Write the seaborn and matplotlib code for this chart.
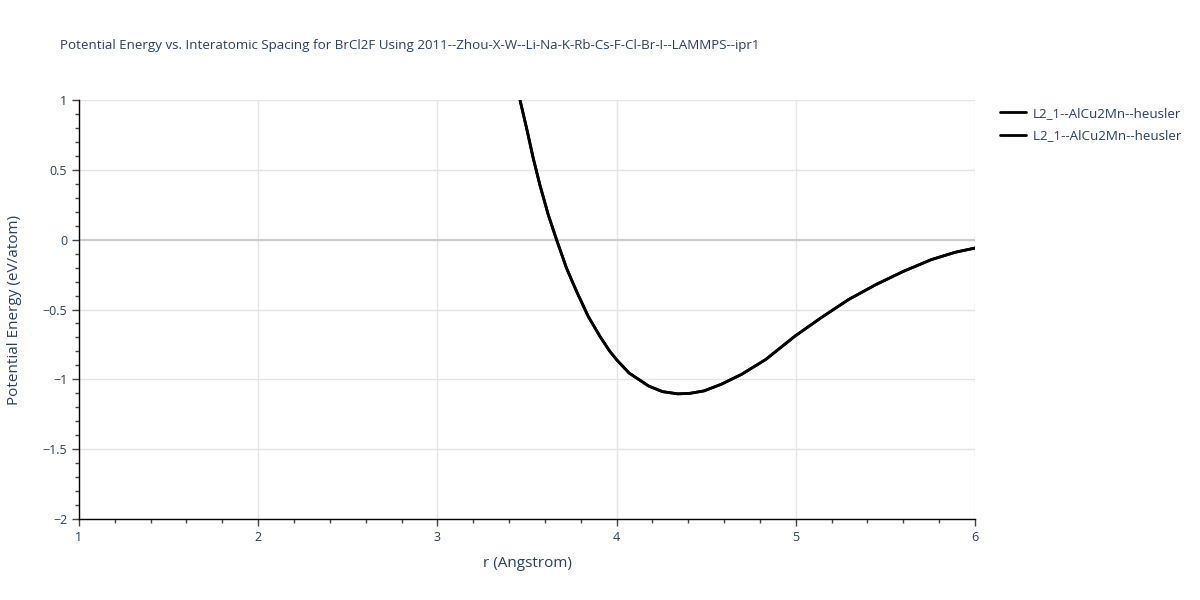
import numpy as np
import pandas as pd
import matplotlib
matplotlib.use('Agg')
import matplotlib.pyplot as plt
import seaborn as sns
from matplotlib.ticker import MultipleLocator

# ---------------------------------------------------------------
# DATA
# ---------------------------------------------------------------
r_vals = [3.461, 3.498, 3.535, 3.572, 3.619, 3.665, 3.721, 3.777, 3.842,
          3.908, 3.963, 4.004, 4.07, 4.179, 4.256, 4.342, 4.41, 4.487,
          4.583, 4.698, 4.833, 4.996, 5.14, 5.294, 5.448, 5.602, 5.756,
          5.89, 6.0]
energy_vals = [1.0, 0.797, 0.583, 0.392, 0.177, 0.0, -0.205, -0.371, -0.55,
               -0.694, -0.801, -0.865, -0.955, -1.048, -1.088, -1.104, -1.1, -1.083,
               -1.036, -0.964, -0.857, -0.69, -0.56, -0.429, -0.321, -0.226, -0.143,
               -0.09, -0.06]
series_names = ['L2_1--AlCu2Mn--heusler', 'L2_1--AlCu2Mn--heusler']

title_text = ('Potential Energy vs. Interatomic Spacing for BrCl2F Using '
              '2011--Zhou-X-W--Li-Na-K-Rb-Cs-F-Cl-Br-I--LAMMPS--ipr1')

# ---------------------------------------------------------------
# PLOT
# ---------------------------------------------------------------
sns.set_style('white')
plt.rcParams['font.family'] = ['Open Sans', 'DejaVu Sans']
text_col = '#2a3f5f'

fig = plt.figure(figsize=(12, 6), dpi=100)
ax = fig.add_axes([0.0658, 0.135, 0.7467, 0.6983])

for i, name in enumerate(series_names):
    df = pd.DataFrame({'r': r_vals, 'E': energy_vals})
    sns.lineplot(data=df, x='r', y='E', ax=ax, color='black', linewidth=2,
                 label=name if i == 0 else name + ' ', sort=False)

ax.set_xlim(1, 6)
ax.set_ylim(-2, 1)
ax.xaxis.set_major_locator(MultipleLocator(1))
ax.xaxis.set_minor_locator(MultipleLocator(0.2))
ax.yaxis.set_minor_locator(MultipleLocator(0.1))
ax.set_yticks([1, 0.5, 0, -0.5, -1, -1.5, -2])
ax.set_yticklabels(['1', '0.5', '0', '\u22120.5', '\u22121', '\u22121.5', '\u22122'])

ax.grid(True, which='major', color='#e5e5e5', linewidth=1)
ax.axhline(0, color='#cccccc', linewidth=1.5, zorder=1)
for s in ['top', 'right']:
    ax.spines[s].set_visible(False)
for s in ['left', 'bottom']:
    ax.spines[s].set_color('black')
    ax.spines[s].set_linewidth(1)

ax.tick_params(which='major', direction='out', length=5, width=1, color='#444444',
               labelsize=9, labelcolor=text_col, left=True, bottom=True)
ax.tick_params(which='minor', direction='out', length=3, width=1, color='#444444',
               left=True, bottom=True)

ax.set_xlabel('r (Angstrom)', fontsize=11, color=text_col, labelpad=9)
ax.set_ylabel('Potential Energy (eV/atom)', fontsize=11, color=text_col, labelpad=15)

fig.text(0.05, 0.925, title_text, fontsize=9.6, color=text_col, ha='left', va='center')

leg = ax.legend(loc='upper left', bbox_to_anchor=(1.014, 1.012), frameon=False,
                fontsize=9.6, handlelength=2.0, handletextpad=0.5, labelspacing=0.7)
for t in leg.get_texts():
    t.set_color(text_col)

plt.savefig('out.png', dpi=100)
